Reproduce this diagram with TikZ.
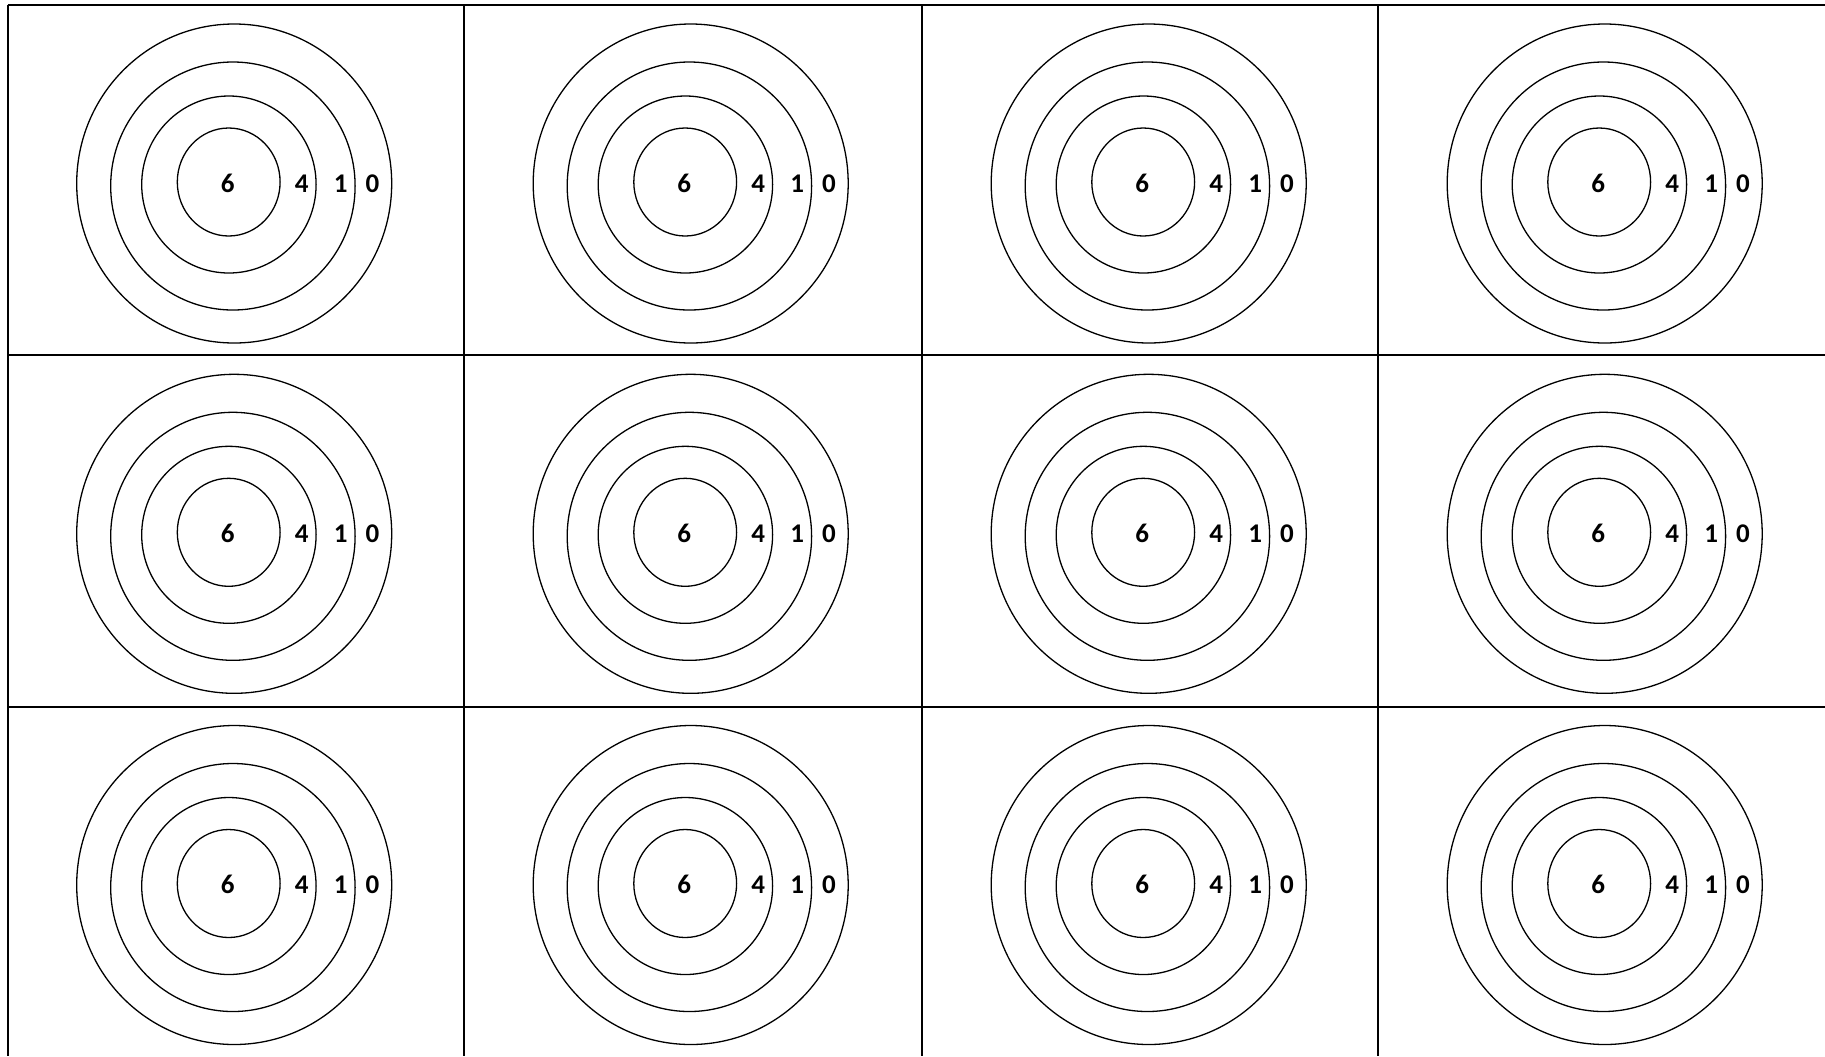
\documentclass[tikz,border=0pt]{standalone}
\usepackage{fontspec}
\setmainfont{Carlito}
\begin{document}
\begin{tikzpicture}[x=0.5pt,y=-0.5pt,
  gridline/.style={line width=1pt,black},
  ring/.style={line width=0.65pt,black},
  score/.style={inner sep=0pt,font=\fontsize{13.5pt}{13.5pt}\selectfont\bfseries}]
\useasboundingbox (0,0) rectangle (1825,1056);
\fill[white] (0,0) rectangle (1825,1056);
% grid
\draw[gridline] (7.5,5) -- (1825,5);
\draw[gridline] (7.5,355.3) -- (1825,355.3);
\draw[gridline] (7.5,706.5) -- (1825,706.5);
\foreach \gx in {7.5,464,922,1378}{
  \draw[gridline] (\gx,5) -- (\gx,1056);
}
% targets
\foreach \cx/\ci in {7.5/a,464/b,922/c,1378/d}{
  \foreach \ry/\rj in {5/1,355.3/2,706.5/3}{
    \begin{scope}[shift={(\cx,\ry)}]
      \draw[ring] (226.7,178.5) ellipse [x radius=157.5, y radius=159.5];
      \draw[ring] (225.4,181) ellipse [x radius=122.2, y radius=124];
      \draw[ring] (221.4,179.5) ellipse [x radius=87.2, y radius=88.5];
      \draw[ring] (221.2,177) ellipse [x radius=51.4, y radius=54];
      \node[score] (six\ci\rj) at (220.3,178.3) {6};
      \node[score] (four\ci\rj) at (294.2,178.3) {4};
      \node[score] (one\ci\rj) at (333.3,178.3) {1};
      \node[score] (zero\ci\rj) at (365,178.3) {0};
    \end{scope}
  }
}
\end{tikzpicture}
\end{document}
